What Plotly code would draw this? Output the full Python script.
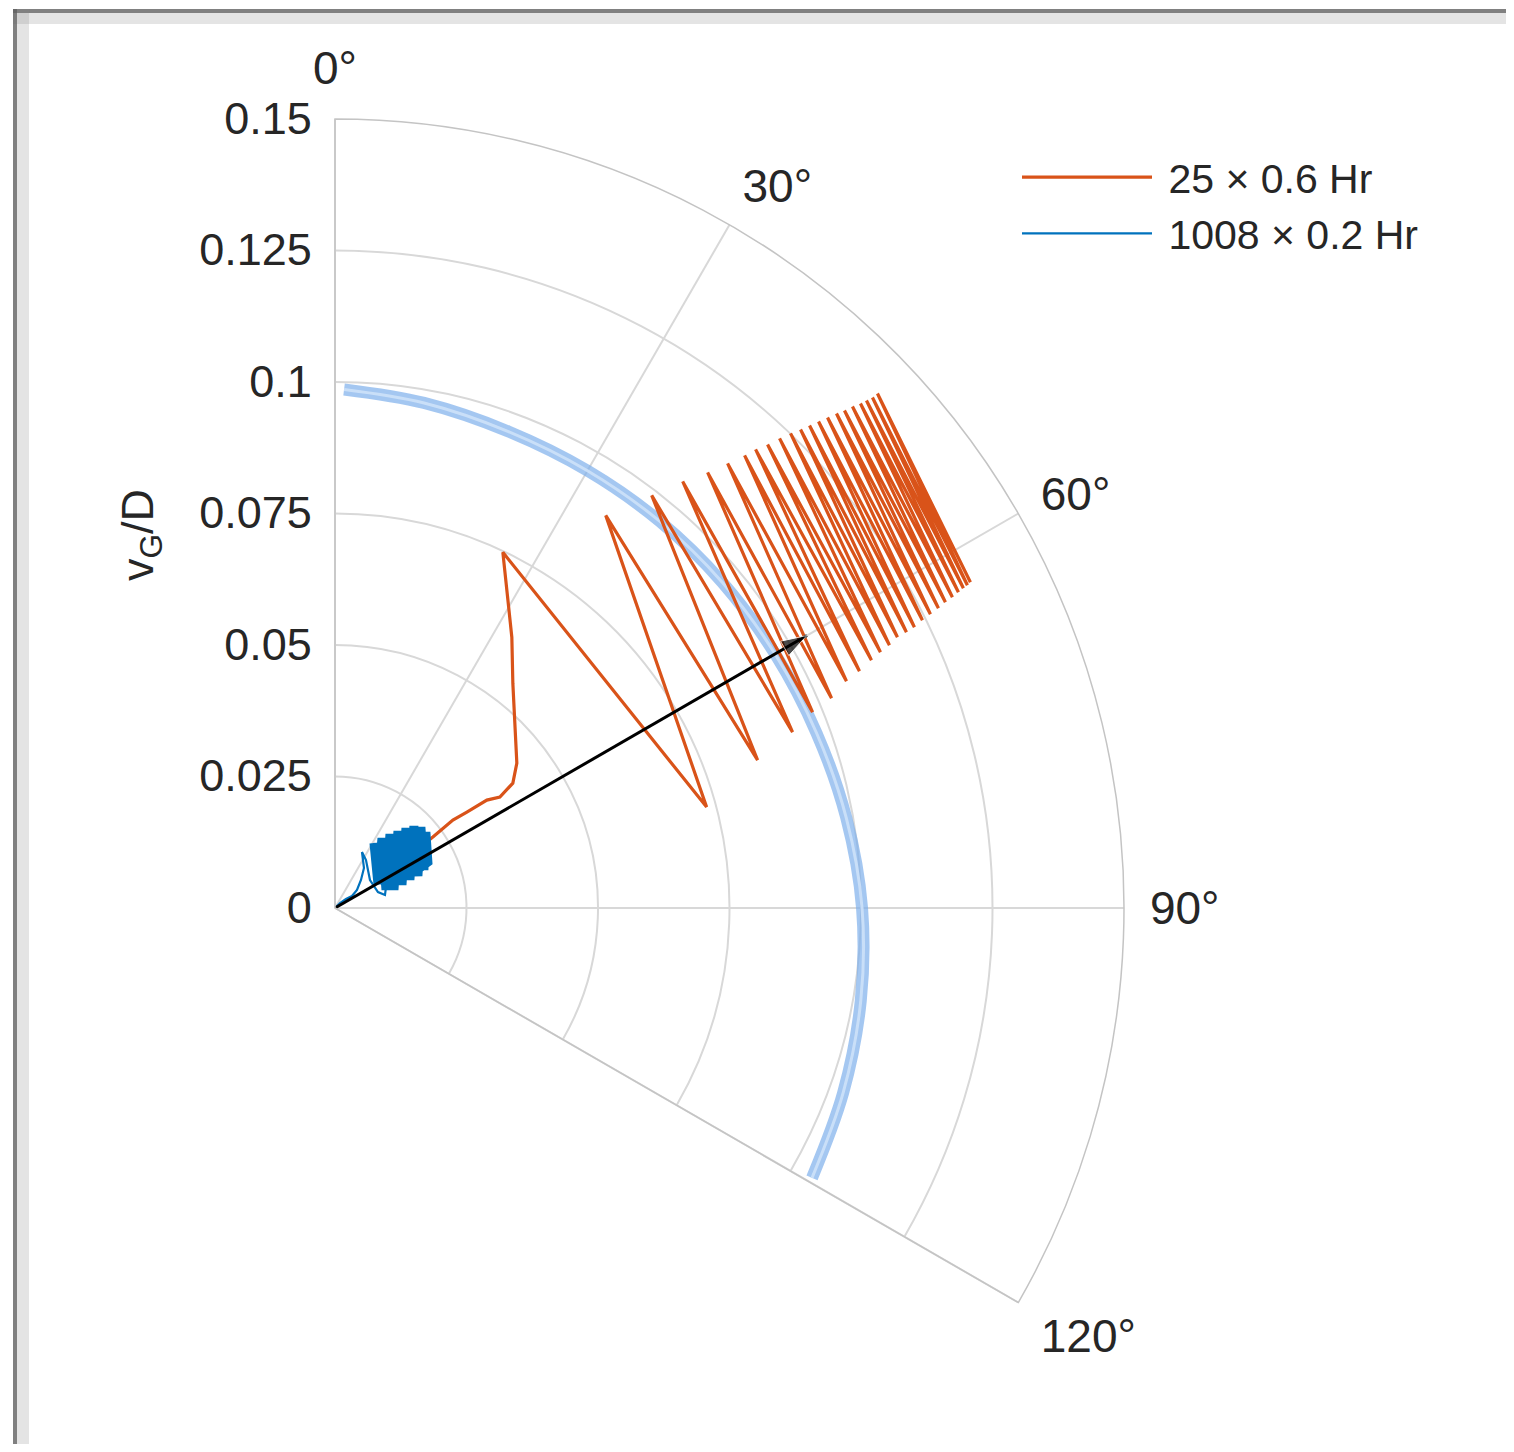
import numpy as np
import plotly.graph_objects as go

# ---------------- axis ticks ----------------
r_ticks = [0, 0.025, 0.05, 0.075, 0.1, 0.125, 0.15]
r_tick_text = ["0", "0.025", "0.05", "0.075", "0.1", "0.125", "0.15"]
theta_ticks = [0, 30, 60, 90, 120]
theta_tick_text = ["0°", "30°", "60°", "90°", "120°"]

# ---------------- 25 x 0.6 Hr (vG/D components: east, north) ----------------
orange_lead_east = [0.01671, 0.01861, 0.02241, 0.02507, 0.02887, 0.03134, 0.03381, 0.03457, 0.03381, 0.03362]
orange_lead_north = [0.01197, 0.01349, 0.01671, 0.01823, 0.02051, 0.02108, 0.02374, 0.02754, 0.04274, 0.05147]

peak_east = [0.03191, 0.05147, 0.06021, 0.06610, 0.07084, 0.07464, 0.07787, 0.07996, 0.08224, 0.08452, 0.08661,
             0.08851, 0.09022, 0.09193, 0.09364, 0.09534, 0.09686, 0.09838, 0.09990, 0.10104, 0.10218, 0.10313]
peak_north = [0.06762, 0.07464, 0.07844, 0.08110, 0.08281, 0.08452, 0.08604, 0.08718, 0.08813, 0.08927, 0.09022,
              0.09098, 0.09174, 0.09250, 0.09326, 0.09402, 0.09459, 0.09534, 0.09591, 0.09648, 0.09705, 0.09781]
trough_east = [0.07065, 0.08034, 0.08699, 0.09079, 0.09440, 0.09724, 0.09971, 0.10199, 0.10370, 0.10541, 0.10693,
               0.10864, 0.11016, 0.11168, 0.11320, 0.11472, 0.11605, 0.11738, 0.11852, 0.11947, 0.12023, 0.12080]
trough_north = [0.01918, 0.02811, 0.03343, 0.03723, 0.03989, 0.04311, 0.04501, 0.04710, 0.04862, 0.04995, 0.05147,
                0.05242, 0.05337, 0.05470, 0.05584, 0.05698, 0.05812, 0.05907, 0.06002, 0.06078, 0.06135, 0.06192]

# ---------------- 1008 x 0.2 Hr (vG/D components: east, north) ----------------
blue_lead_east = [0.0, 0.00095, 0.00209, 0.00323, 0.00418, 0.00494, 0.00551, 0.00513, 0.00589, 0.00665, 0.00817,
                  0.00950, 0.00988]
blue_lead_north = [0.0, 0.00095, 0.00171, 0.00228, 0.00342, 0.00532, 0.00760, 0.01064, 0.00912, 0.00532, 0.00304,
                   0.00247, 0.00532]
blue_blob_east = [0.00741, 0.00817, 0.00893, 0.00969, 0.01045, 0.01121, 0.01197, 0.01273, 0.01349, 0.01424,
                  0.01500, 0.01576, 0.01633, 0.01690, 0.01728, 0.01766, 0.01614, 0.01690]
blue_blob_north = [0.01235, 0.00456, 0.01330, 0.00342, 0.01405, 0.00342, 0.01462, 0.00437, 0.01519, 0.00532,
                   0.01557, 0.00608, 0.01538, 0.00722, 0.01443, 0.00874, 0.00760, 0.01102]

# ---------------- highlighted arc ----------------
arc_theta = [1, 10, 20, 30, 40, 50, 60, 70, 80, 90, 100, 110, 119.5]
arc_r = [0.0986, 0.0975, 0.0964, 0.0960, 0.0960, 0.0962, 0.0966, 0.0974, 0.0987, 0.1002, 0.1015, 0.1028, 0.1042]

# ---------------- arrow ----------------
arrow_r = [0, 0.1036]
arrow_theta = [60, 60]


def to_polar(east, north):
    e = np.asarray(east, dtype=float)
    n = np.asarray(north, dtype=float)
    return np.hypot(e, n), np.degrees(np.arctan2(e, n))


# assemble orange path: lead-in, then alternating peaks and troughs
o_east = list(orange_lead_east)
o_north = list(orange_lead_north)
for pe, pn, te, tn in zip(peak_east, peak_north, trough_east, trough_north):
    o_east += [pe, te]
    o_north += [pn, tn]
o_r, o_t = to_polar(o_east, o_north)

b_r, b_t = to_polar(blue_lead_east + blue_blob_east, blue_lead_north + blue_blob_north)
bb_r, bb_t = to_polar(blue_blob_east, blue_blob_north)

ORANGE = "#D95319"
BLUE = "#0072BD"
FONT = "Liberation Sans, Arial, sans-serif"
TXT = "#262626"

fig = go.Figure()

# highlight arc (outer glow + light core)
fig.add_trace(go.Scatterpolar(r=arc_r, theta=arc_theta, mode="lines",
                              line=dict(color="rgba(125,175,235,0.7)", width=12, shape="spline"),
                              showlegend=False, hoverinfo="skip"))
fig.add_trace(go.Scatterpolar(r=arc_r, theta=arc_theta, mode="lines",
                              line=dict(color="rgba(205,225,248,0.9)", width=3, shape="spline"),
                              showlegend=False, hoverinfo="skip"))

fig.add_trace(go.Scatterpolar(r=o_r, theta=o_t, mode="lines", name="\u00a025 × 0.6 Hr",
                              line=dict(color=ORANGE, width=3.2)))
fig.add_trace(go.Scatterpolar(r=b_r, theta=b_t, mode="lines", name="\u00a01008 × 0.2 Hr",
                              line=dict(color=BLUE, width=2.2)))
fig.add_trace(go.Scatterpolar(r=bb_r, theta=bb_t, mode="lines", showlegend=False,
                              line=dict(color=BLUE, width=9), hoverinfo="skip"))

# arrow
fig.add_trace(go.Scatterpolar(r=arrow_r, theta=arrow_theta, mode="lines+markers", showlegend=False,
                              line=dict(color="black", width=3),
                              marker=dict(symbol="arrow", size=[0, 27], color="black",
                                          angle=arrow_theta[-1], angleref="up"),
                              hoverinfo="skip"))

# page body adds an 8px margin; figure is sized and positioned accordingly
OFF = 8
W, H = 1514 - OFF, 1452 - 2 * OFF


def px(x):
    return (x - OFF) / W


def py(y):
    return 1 - (y - OFF) / H


fig.update_layout(
    width=W, height=H,
    margin=dict(l=0, r=0, t=0, b=0),
    paper_bgcolor="white",
    font=dict(family=FONT, size=44, color=TXT),
    polar=dict(
        domain=dict(x=[px(335), px(1124)], y=[py(1302.5), py(119)]),
        sector=[-30, 90],
        bgcolor="white",
        angularaxis=dict(rotation=90, direction="clockwise", tickmode="array",
                         tickvals=theta_ticks, ticktext=theta_tick_text,
                         showline=True, linecolor="#C4C4C4", linewidth=1.5,
                         gridcolor="#D8D8D8", gridwidth=1.5,
                         ticks="outside", ticklen=16, tickcolor="rgba(0,0,0,0)",
                         tickfont=dict(size=46, color=TXT)),
        radialaxis=dict(range=[0, 0.15], tickmode="array", tickvals=r_ticks, ticktext=r_tick_text,
                        angle=90, side="counterclockwise", tickangle=90,
                        showline=False, gridcolor="#D8D8D8", gridwidth=1.5,
                        ticks="outside", ticklen=7, tickcolor="rgba(0,0,0,0)",
                        tickfont=dict(size=45, color=TXT)),
    ),
    legend=dict(x=px(1017), y=py(144), xanchor="left", yanchor="top",
                bgcolor="rgba(0,0,0,0)", font=dict(size=41, color=TXT),
                itemwidth=130, tracegroupgap=0),
    annotations=[dict(text="v<sub>G</sub>/D", x=px(140), y=py(535), xref="paper", yref="paper",
                      xanchor="center", yanchor="middle",
                      showarrow=False, textangle=-90, font=dict(size=45, color=TXT))],
    shapes=[
        dict(type="rect", xref="paper", yref="paper", x0=px(13), x1=1, y0=py(24), y1=py(9),
             line=dict(width=0), fillcolor="rgba(130,130,130,0.22)"),
        dict(type="rect", xref="paper", yref="paper", x0=px(13), x1=1, y0=py(13), y1=py(9),
             line=dict(width=0), fillcolor="rgba(95,95,95,0.75)"),
        dict(type="rect", xref="paper", yref="paper", x0=px(13), x1=px(29), y0=0, y1=py(9),
             line=dict(width=0), fillcolor="rgba(130,130,130,0.22)"),
        dict(type="rect", xref="paper", yref="paper", x0=px(13), x1=px(17), y0=0, y1=py(9),
             line=dict(width=0), fillcolor="rgba(95,95,95,0.75)"),
    ],
)

fig.write_html("out.html")
